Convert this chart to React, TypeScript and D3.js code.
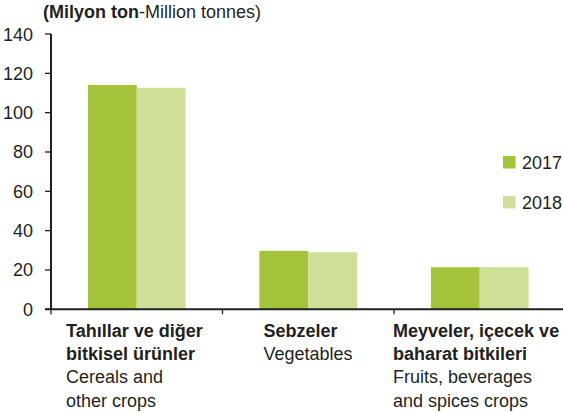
import React from "react";
import * as d3 from "d3";

const categories = ["cereals", "vegetables", "fruits"];
const years = ["2017", "2018"];
const values2017 = [114.1, 29.7, 21.4];
const values2018 = [112.6, 29.0, 21.4];
const yTicks = [0, 20, 40, 60, 80, 100, 120, 140];
const labelLines = [
  [
    { t: "Tahıllar ve diğer", b: true },
    { t: "bitkisel ürünler", b: true },
    { t: "Cereals and", b: false },
    { t: "other crops", b: false },
  ],
  [
    { t: "Sebzeler", b: true },
    { t: "Vegetables", b: false },
  ],
  [
    { t: "Meyveler, içecek ve", b: true },
    { t: "baharat bitkileri", b: true },
    { t: "Fruits, beverages", b: false },
    { t: "and spices crops", b: false },
  ],
];
const labelOffsets = [15, 41, -1];
const colors = ["#a6c43b", "#cfdf98"];

const W = 563;
const H = 413;
const left = 51;
const right = 565.5;
const top = 34;
const bottom = 309.3;
const font = "'Liberation Sans', Arial, Helvetica, sans-serif";
const ink = "#231f20";

export default function App() {
  const x = d3.scaleBand<string>().domain(categories).range([left, right]);
  const xi = d3.scaleBand<string>().domain(years).range([0, 97.7]);
  const y = d3.scaleLinear().domain([0, 140]).range([bottom, top]);
  const series = [values2017, values2018];
  const groupOffset = (x.bandwidth() - 97.7) / 2;

  return (
    <svg
      width={W}
      height={H}
      style={{ position: "absolute", left: 0, top: 0, fontFamily: font }}
    >
      <rect width={W} height={H} fill="#fff" />
      <text x={43} y={18} fontSize={18} fill={ink}>
        <tspan fontWeight="bold">(Milyon ton</tspan>
        <tspan>-Million tonnes)</tspan>
      </text>
      {series.map((vals, si) =>
        categories.map((c, ci) => (
          <rect
            key={`${si}-${ci}`}
            x={(x(c) as number) + groupOffset + (xi(years[si]) as number)}
            y={y(vals[ci])}
            width={xi.bandwidth()}
            height={bottom - y(vals[ci])}
            fill={colors[si]}
          />
        ))
      )}
      {/* y axis */}
      <line x1={left} x2={left} y1={top} y2={bottom} stroke={ink} strokeWidth={2} />
      {yTicks.map((t) => (
        <g key={t}>
          <line x1={left - 6} x2={left} y1={y(t)} y2={y(t)} stroke={ink} strokeWidth={1.3} />
          <text x={33} y={y(t) + 6.5} textAnchor="end" fontSize={18} fill={ink}>
            {t}
          </text>
        </g>
      ))}
      {/* x axis */}
      <line x1={left - 6} x2={W} y1={bottom} y2={bottom} stroke={ink} strokeWidth={2} />
      {categories.map((c) => (
        <line
          key={c}
          x1={x(c) as number}
          x2={x(c) as number}
          y1={bottom}
          y2={bottom + 5}
          stroke={ink}
          strokeWidth={1.3}
        />
      ))}
      {categories.map((c, ci) => (
        <text key={c} fontSize={18} fill={ink}>
          {labelLines[ci].map((l, li) => (
            <tspan
              key={li}
              x={(x(c) as number) + labelOffsets[ci]}
              y={336.5 + li * 23.4}
              fontWeight={l.b ? "bold" : "normal"}
            >
              {l.t}
            </tspan>
          ))}
        </text>
      ))}
      {/* legend */}
      {years.map((yr, i) => (
        <g key={yr} transform={`translate(503, ${156 + i * 40})`}>
          <rect width={12.5} height={12.5} fill={colors[i]} />
          <text x={19} y={13} fontSize={18} fill={ink}>
            {yr}
          </text>
        </g>
      ))}
    </svg>
  );
}
